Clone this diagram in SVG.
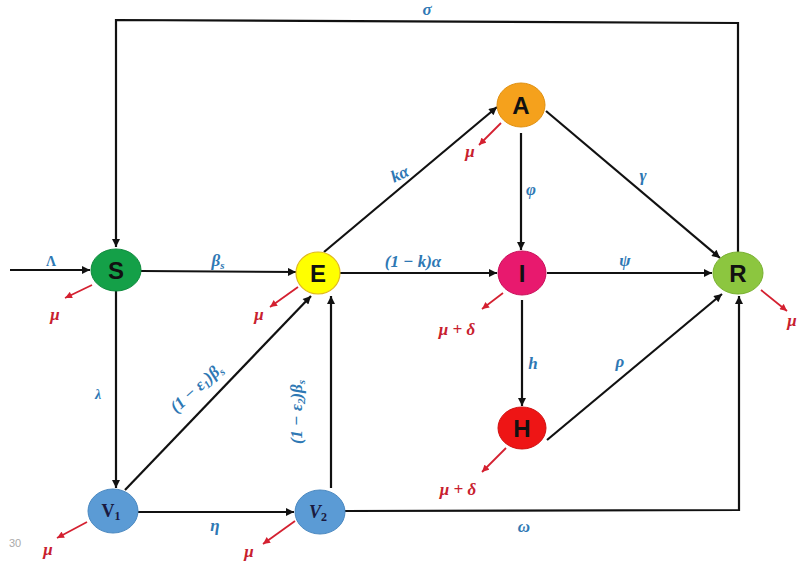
<svg xmlns="http://www.w3.org/2000/svg" width="800" height="562" viewBox="0 0 800 562">
<style>
.c{fill:none;stroke:#111;stroke-width:2.2}
.d{fill:none;stroke:#d42030;stroke-width:1.8}
.lb{font-family:"Liberation Serif",serif;font-weight:bold;font-style:italic;font-size:17px;fill:#2e78b4}
.lr{font-family:"Liberation Serif",serif;font-weight:bold;font-style:italic;font-size:17px;fill:#c8202e}
.n{font-family:"Liberation Sans",Arial,sans-serif;font-weight:bold;font-size:24px;fill:#111;text-anchor:middle;dominant-baseline:central}
.v{font-family:"Liberation Serif",serif;font-weight:bold;font-size:18px;fill:#1a1a40;text-anchor:middle}
</style>
<defs>
<marker id="ah" viewBox="0 0 10 10" refX="10" refY="5" markerWidth="10" markerHeight="8" markerUnits="userSpaceOnUse" orient="auto"><path d="M0,0 L10,5 L0,10 z" fill="#111"/></marker>
<marker id="rh" viewBox="0 0 10 10" refX="10" refY="5" markerWidth="8" markerHeight="7" markerUnits="userSpaceOnUse" orient="auto"><path d="M0,0 L10,5 L0,10 z" fill="#d42030"/></marker>
</defs>
<rect width="800" height="562" fill="#fff"/>
<g id="connectors">
<polyline class="c" points="738,252 738,23 116,20 116,247" marker-end="url(#ah)"/>
<line class="c" x1="10" y1="270" x2="90" y2="270" marker-end="url(#ah)"/>
<line class="c" x1="141" y1="271" x2="296" y2="272" marker-end="url(#ah)"/>
<line class="c" x1="116" y1="291" x2="116" y2="488" marker-end="url(#ah)"/>
<line class="c" x1="125" y1="490" x2="311" y2="296" marker-end="url(#ah)"/>
<line class="c" x1="331" y1="488" x2="331" y2="296" marker-end="url(#ah)"/>
<line class="c" x1="138" y1="512" x2="294" y2="512" marker-end="url(#ah)"/>
<polyline class="c" points="345,511 739,510 739,296" marker-end="url(#ah)"/>
<line class="c" x1="324" y1="252" x2="497" y2="107" marker-end="url(#ah)"/>
<line class="c" x1="340" y1="273" x2="497" y2="273" marker-end="url(#ah)"/>
<line class="c" x1="521" y1="133" x2="521" y2="250" marker-end="url(#ah)"/>
<line class="c" x1="546" y1="111" x2="720" y2="258" marker-end="url(#ah)"/>
<line class="c" x1="547" y1="273" x2="712" y2="273" marker-end="url(#ah)"/>
<line class="c" x1="522" y1="300" x2="522" y2="406" marker-end="url(#ah)"/>
<line class="c" x1="547" y1="440" x2="722" y2="294" marker-end="url(#ah)"/>
<line class="d" x1="92" y1="285" x2="65" y2="298" marker-end="url(#rh)"/>
<line class="d" x1="298" y1="287" x2="270" y2="307" marker-end="url(#rh)"/>
<line class="d" x1="501" y1="123" x2="479" y2="145" marker-end="url(#rh)"/>
<line class="d" x1="503" y1="293" x2="482" y2="309" marker-end="url(#rh)"/>
<line class="d" x1="761" y1="290" x2="787" y2="311" marker-end="url(#rh)"/>
<line class="d" x1="506" y1="448" x2="482" y2="472" marker-end="url(#rh)"/>
<line class="d" x1="87" y1="522" x2="57" y2="538" marker-end="url(#rh)"/>
<line class="d" x1="295" y1="521" x2="263" y2="544" marker-end="url(#rh)"/>
</g>
<g id="labels">
<text class="lb" x="427" y="15" text-anchor="middle">σ</text>
<text class="lb" x="51" y="266" text-anchor="middle" style="font-style:normal;font-size:14px">Λ</text>
<text class="lb" x="218" y="266" text-anchor="middle">β<tspan font-size="11" dy="3">s</tspan></text>
<text class="lb" x="98" y="399" text-anchor="middle" style="font-size:14px">λ</text>
<text class="lb" transform="translate(200 392) rotate(-42)" text-anchor="middle">(1 − ε<tspan font-size="11" dy="3">1</tspan><tspan dy="-3">)β</tspan><tspan font-size="11" dy="3">s</tspan></text>
<text class="lb" transform="translate(302 412) rotate(-90)" text-anchor="middle">(1 − ε<tspan font-size="11" dy="3">2</tspan><tspan dy="-3">)β</tspan><tspan font-size="11" dy="3">s</tspan></text>
<text class="lb" x="215" y="531" text-anchor="middle">η</text>
<text class="lb" x="524" y="532" text-anchor="middle">ω</text>
<text class="lb" transform="translate(402 179) rotate(-25)" text-anchor="middle">kα</text>
<text class="lb" x="413" y="267" text-anchor="middle">(1 − k)α</text>
<text class="lb" x="531" y="195" text-anchor="middle">φ</text>
<text class="lb" x="643" y="181" text-anchor="middle">γ</text>
<text class="lb" x="625" y="266" text-anchor="middle">ψ</text>
<text class="lb" x="533" y="369" text-anchor="middle">h</text>
<text class="lb" x="620" y="367" text-anchor="middle">ρ</text>
<text class="lr" x="55" y="320" text-anchor="middle">μ</text>
<text class="lr" x="259" y="320" text-anchor="middle">μ</text>
<text class="lr" x="470" y="157" text-anchor="middle">μ</text>
<text class="lr" x="457" y="335" text-anchor="middle">μ + δ</text>
<text class="lr" x="792" y="326" text-anchor="middle">μ</text>
<text class="lr" x="458" y="495" text-anchor="middle">μ + δ</text>
<text class="lr" x="48" y="555" text-anchor="middle">μ</text>
<text class="lr" x="249" y="557" text-anchor="middle">μ</text>
<text x="15" y="547" text-anchor="middle" font-family="Liberation Sans, sans-serif" font-size="11" fill="#aaa">30</text>
</g>
<g id="S"><ellipse cx="116" cy="270" rx="25" ry="21" fill="#14a048" stroke="#0e8a3c" stroke-width="1"/><text class="n" x="116" y="270">S</text></g>
<g id="E"><ellipse cx="318" cy="273" rx="22" ry="21" fill="#ffff00" stroke="#e0b820" stroke-width="1.2"/><text class="n" x="318" y="273">E</text></g>
<g id="A"><ellipse cx="521" cy="105" rx="24" ry="22" fill="#f5a11c" stroke="#e09010" stroke-width="1"/><text class="n" x="521" y="105">A</text></g>
<g id="I"><ellipse cx="522" cy="273" rx="24" ry="22" fill="#e8196e" stroke="#c8105a" stroke-width="1"/><text class="n" x="522" y="273">I</text></g>
<g id="R"><ellipse cx="738" cy="273" rx="25" ry="21" fill="#8cc63f" stroke="#78b030" stroke-width="1"/><text class="n" x="738" y="273">R</text></g>
<g id="H"><ellipse cx="522" cy="428" rx="24" ry="21" fill="#ee1515" stroke="#d01010" stroke-width="1"/><text class="n" x="522" y="428">H</text></g>
<g id="V1"><ellipse cx="113" cy="511" rx="25" ry="22" fill="#5b9bd5" stroke="#4a88c0" stroke-width="1"/><text class="v" x="111" y="517">V<tspan font-size="12" dy="3">1</tspan></text></g>
<g id="V2"><ellipse cx="320" cy="512" rx="25" ry="22" fill="#5b9bd5" stroke="#4a88c0" stroke-width="1"/><text class="v" x="318" y="518" font-style="italic">V<tspan font-size="12" dy="3" font-style="normal">2</tspan></text></g>
</svg>
